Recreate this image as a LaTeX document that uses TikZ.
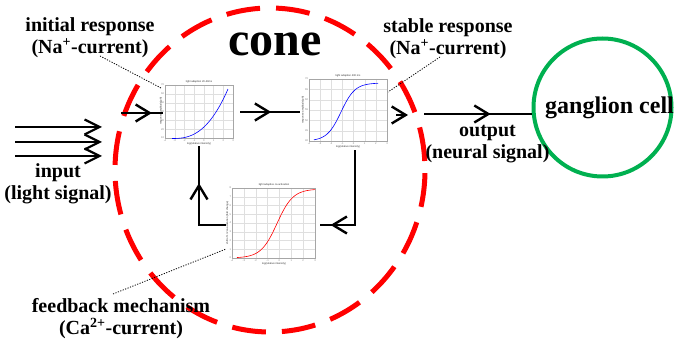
\documentclass[tikz,border=0pt]{standalone}
\usepackage{fontspec}
\setmainfont{Liberation Serif}
\setsansfont{Liberation Sans}
\usetikzlibrary{arrows.meta,decorations.markings}
\definecolor{conered}{RGB}{255,0,0}
\definecolor{ggreen}{RGB}{0,176,80}
\tikzset{
  chev/.tip={Straight Barb[length=14pt,width=17pt,line width=2.4pt]},
  inchev/.tip={Straight Barb[length=15pt,width=15pt,line width=2.2pt]},
}
\begin{document}
\begin{tikzpicture}[x=1pt,y=-1pt,
  lbl/.style={font=\bfseries\fontsize{20}{22}\selectfont, align=center, inner sep=0pt},
  flow/.style={line width=2.8pt, black},
  inflow/.style={line width=2.4pt, black},
  midarrow/.style={postaction={decorate}, decoration={markings, mark=at position #1 with {\arrow{chev}}}},
  leader/.style={line width=0.8pt, dash pattern=on 1.2pt off 1.4pt},
  plotbox/.style={draw=gray!70, line width=0.3pt},
  gridln/.style={draw=gray!25, line width=0.3pt},
  tinyt/.style={font=\sffamily\fontsize{2.6}{3}\selectfont, inner sep=0.3pt, text=black!80},
  plotarea/.style={inner sep=0pt, draw=none},
]
\fill[white] (0,0) rectangle (678,344);
\useasboundingbox (0,0) rectangle (678,344);

% cone boundary
\draw[conered, line width=5pt, dash pattern=on 34pt off 16pt, dash phase=41pt] (270,170) ellipse [x radius=155pt, y radius=162pt];

% ganglion cell
\node[circle, draw=ggreen, line width=4pt, minimum size=138pt, inner sep=0pt] (gc) at (602.5,107.5) {};
\node[font=\bfseries\fontsize{24}{26}\selectfont, inner sep=0pt] (gct) at (609.5,107.5) {ganglion cell};

% plot areas
\node[plotarea, minimum width=77pt, minimum height=68pt] (p1) at (201.5,112) {};
\node[plotarea, minimum width=96pt, minimum height=78pt] (p2) at (348,111) {};
\node[plotarea, minimum width=94pt, minimum height=88pt] (p3) at (273,224) {};

% plot 1
\foreach \i in {0,...,7} \draw[gridln] ({165+\i*68/7},85) -- ({165+\i*68/7},138);
\foreach \j in {0,...,6} \draw[gridln] (165,{85+\j*53/6}) -- (233,{85+\j*53/6});
\draw[plotbox] (165,85) rectangle (233,138);
\draw[blue, line width=0.6pt] plot[domain=172.05:228, samples=50] (\x, {138.5-49.5*((\x-172)/56)^2.6});
\node[tinyt] (t1) at (199,82) {light adaption 20-40ms};
\node[tinyt] (x1) at (199,144) {log(relative intensity)};
\node[tinyt, rotate=90] (y1) at (161,111) {response amplitude(pA)};
\foreach \i/\t in {0/-4,1/-3,2/-2,3/-1,4/0,5/1,6/2,7/3} \node[tinyt, text=gray] at ({165+\i*68/7},140.3) {\t};
\foreach \j/\t in {0/70,1/60,2/50,3/40,4/30,5/20,6/10} \node[tinyt, text=gray, anchor=east] at (164.5,{85+\j*53/6}) {\t};

% plot 2
\foreach \i in {0,...,7} \draw[gridln] ({309+\i*78/7},79) -- ({309+\i*78/7},141);
\foreach \j in {0,...,6} \draw[gridln] (309,{79+\j*62/6}) -- (387,{79+\j*62/6});
\draw[plotbox] (309,79) rectangle (387,141);
\draw[blue, line width=0.6pt] plot[domain=314:378, samples=60] (\x, {141-58/(1+exp(-(\x-341)/7))});
\node[tinyt] (t2) at (348,76) {light adaption 400 ms};
\node[tinyt] (x2) at (348,147) {log(relative intensity)};
\node[tinyt, rotate=90] (y2) at (303,110) {response amplitude(pA)};
\foreach \i/\t in {0/-4,1/-3,2/-2,3/-1,4/0,5/1,6/2,7/3} \node[tinyt, text=gray] at ({309+\i*78/7},143.3) {\t};
\foreach \j/\t in {0/70,1/65,2/60,3/55,4/50,5/45,6/40} \node[tinyt, text=gray, anchor=east] at (308.5,{79+\j*62/6}) {\t};

% plot 3
\foreach \i in {0,...,7} \draw[gridln] ({232+\i*83/7},188) -- ({232+\i*83/7},258);
\foreach \j in {0,...,8} \draw[gridln] (232,{188+\j*70/8}) -- (315,{188+\j*70/8});
\draw[plotbox] (232,188) rectangle (315,258);
\draw[red, line width=0.6pt] plot[domain=237:315, samples=60] (\x, {258-69/(1+exp(-(\x-277)/8))});
\node[tinyt] (t3) at (274,184.5) {light adaptive ca activation};
\node[tinyt] (x3) at (274,264) {log(relative intensity)};
\node[tinyt, rotate=90] (y3) at (227.5,223) {shift of 1/2 ca activation (fold change)};
\foreach \i/\t in {0/-4,1/-3,2/-2,3/-1,4/0,5/1,6/2,7/3} \node[tinyt, text=gray] at ({232+\i*83/7},260.3) {\t};
\foreach \j/\t in {0/8,1/7,2/6,3/5,4/4,5/3,6/2,7/1,8/0} \node[tinyt, text=gray, anchor=east] at (231.5,{188+\j*70/8}) {\t};

% input arrows
\foreach \yy/\n in {127/a,142/b,156/c} {
  \coordinate (s\n) at (15,\yy);
  \coordinate (e\n) at (102,\yy);
  \draw[inflow, -{inchev}] (s\n) -- (e\n);
}

% signal path
\coordinate (inS) at (121,113);
\draw[flow, midarrow=0.74] (inS) -- (inS -| p1.west);
\draw[flow, midarrow=0.52] (p1.east) -- (p1.east -| p2.west);
\coordinate (r1) at (408,115);
\draw[flow, -{chev}] (p2.east |- r1) -- (r1);
\coordinate (o1) at (424,114);
\draw[flow, midarrow=0.62] (o1) -- (o1 -| gc.west);

% feedback loop
\coordinate (fr) at (355,225);
\draw[flow, line join=miter, midarrow=0.905] (p2.south -| fr) -- (fr) -- (fr -| p3.east);
\coordinate (fl) at (199,225);
\draw[flow, line join=miter, midarrow=0.65] (fl -| p3.west) -- (fl) -- (fl |- p1.south);

% labels
\node[font=\bfseries\fontsize{48}{50}\selectfont, inner sep=0pt] (cone) at (275,44) {cone};
\node[lbl] (lab1) at (90,38) {initial response\\(Na\smash{\textsuperscript{+}}-current)};
\node[lbl] (lab2) at (448,39) {stable response\\(Na\smash{\textsuperscript{+}}-current)};
\node[lbl] (inl) at (58,184) {input\\(light signal)};
\node[lbl] (outl) at (487.5,144.5) {output\\(neural signal)};
\node[lbl] (fbl) at (121,319) {feedback mechanism\\(Ca\smash{\textsuperscript{2+}}-current)};

% leaders
\coordinate (l1a) at (100,56);
\coordinate (l1b) at (161,88);
\draw[leader] (l1a) -- (l1b);
\coordinate (l2a) at (440,57);
\coordinate (l2b) at (388,92);
\draw[leader] (l2a) -- (l2b);
\coordinate (l3a) at (113,294);
\coordinate (l3b) at (226,249);
\draw[leader] (l3a) -- (l3b);
\end{tikzpicture}
\end{document}
